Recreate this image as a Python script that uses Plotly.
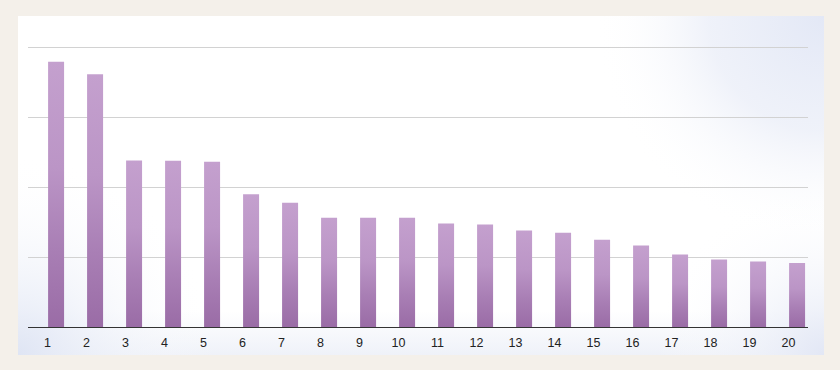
import base64
import plotly.graph_objects as go

categories = [str(i) for i in range(1, 21)]
values = [37.9, 36.1, 23.8, 23.75, 23.6, 18.95, 17.75, 15.6, 15.6, 15.6,
          14.8, 14.65, 13.8, 13.45, 12.45, 11.65, 10.35, 9.65, 9.35, 9.15]

BAR_L, BAR_R = 0.015, 0.425   # bar sits in the right half of each category slot
bar_scale = [[0, "#9a6ca6"], [0.3, "#a97fb5"], [0.6, "#bb95c6"], [1, "#c4a0ce"]]

fig = go.Figure()
for i, v in enumerate(values):
    fig.add_trace(go.Scatter(
        x=[i + BAR_L, i + BAR_R, i + BAR_R, i + BAR_L, i + BAR_L],
        y=[0, 0, v, v, 0],
        mode="lines",
        line=dict(width=0),
        fill="toself",
        fillgradient=dict(type="vertical", colorscale=bar_scale),
        showlegend=False,
        hoverinfo="skip",
    ))

svg = """<svg xmlns='http://www.w3.org/2000/svg' width='806' height='339' viewBox='0 0 806 339' preserveAspectRatio='none'>
<defs>
<radialGradient id='tr' cx='806' cy='0' r='230' gradientUnits='userSpaceOnUse'>
<stop offset='0' stop-color='#e3e8f6' stop-opacity='1'/>
<stop offset='0.5' stop-color='#e8ecf7' stop-opacity='0.7'/>
<stop offset='1' stop-color='#ffffff' stop-opacity='0'/>
</radialGradient>
<radialGradient id='bl' cx='0' cy='339' r='200' gradientUnits='userSpaceOnUse'>
<stop offset='0' stop-color='#dfe5f4' stop-opacity='1'/>
<stop offset='1' stop-color='#ffffff' stop-opacity='0'/>
</radialGradient>
<radialGradient id='br' cx='806' cy='339' r='170' gradientUnits='userSpaceOnUse'>
<stop offset='0' stop-color='#e2e7f5' stop-opacity='1'/>
<stop offset='1' stop-color='#ffffff' stop-opacity='0'/>
</radialGradient>
<linearGradient id='bt' x1='0' y1='295' x2='0' y2='339' gradientUnits='userSpaceOnUse'>
<stop offset='0' stop-color='#e8ecf6' stop-opacity='0'/>
<stop offset='1' stop-color='#e8ecf6' stop-opacity='0.7'/>
</linearGradient>
</defs>
<rect width='806' height='339' fill='#ffffff'/>
<rect width='806' height='339' fill='url(#bt)'/>
<rect width='806' height='339' fill='url(#bl)'/>
<rect width='806' height='339' fill='url(#br)'/>
<rect width='806' height='339' fill='url(#tr)'/>
</svg>"""
src = "data:image/svg+xml;base64," + base64.b64encode(svg.encode()).decode()

L, R, T, B = 28, 32, 44, 43
PW, PH = 840 - L - R, 370 - T - B
panel_x0, panel_x1, panel_y0, panel_y1 = 18, 824, 16, 355

fig.add_layout_image(dict(
    source=src, xref="paper", yref="paper",
    x=(panel_x0 - L) / PW, y=(370 - B - panel_y0) / PH,
    sizex=(panel_x1 - panel_x0) / PW, sizey=(panel_y1 - panel_y0) / PH,
    xanchor="left", yanchor="top", sizing="stretch", layer="below",
))

fig.update_layout(
    width=840, height=370,
    margin=dict(l=L, r=R, t=T, b=B),
    paper_bgcolor="#f4f0ea",
    plot_bgcolor="rgba(0,0,0,0)",
    font=dict(family="Liberation Sans, Arial, sans-serif", size=12.5, color="#222222"),
    xaxis=dict(
        range=[-0.5, 19.5],
        tickvals=list(range(20)), ticktext=categories,
        showgrid=False, zeroline=False,
        showline=True, linecolor="#333333", linewidth=1.2,
        ticks="", ticklabelstandoff=4, fixedrange=True,
    ),
    yaxis=dict(
        range=[0, 40.43], tickvals=[10, 20, 30, 40],
        showgrid=True, gridcolor="#d2d2d2", gridwidth=1,
        zeroline=False, showticklabels=False, ticks="", fixedrange=True,
    ),
)

fig.write_html("out.html")
